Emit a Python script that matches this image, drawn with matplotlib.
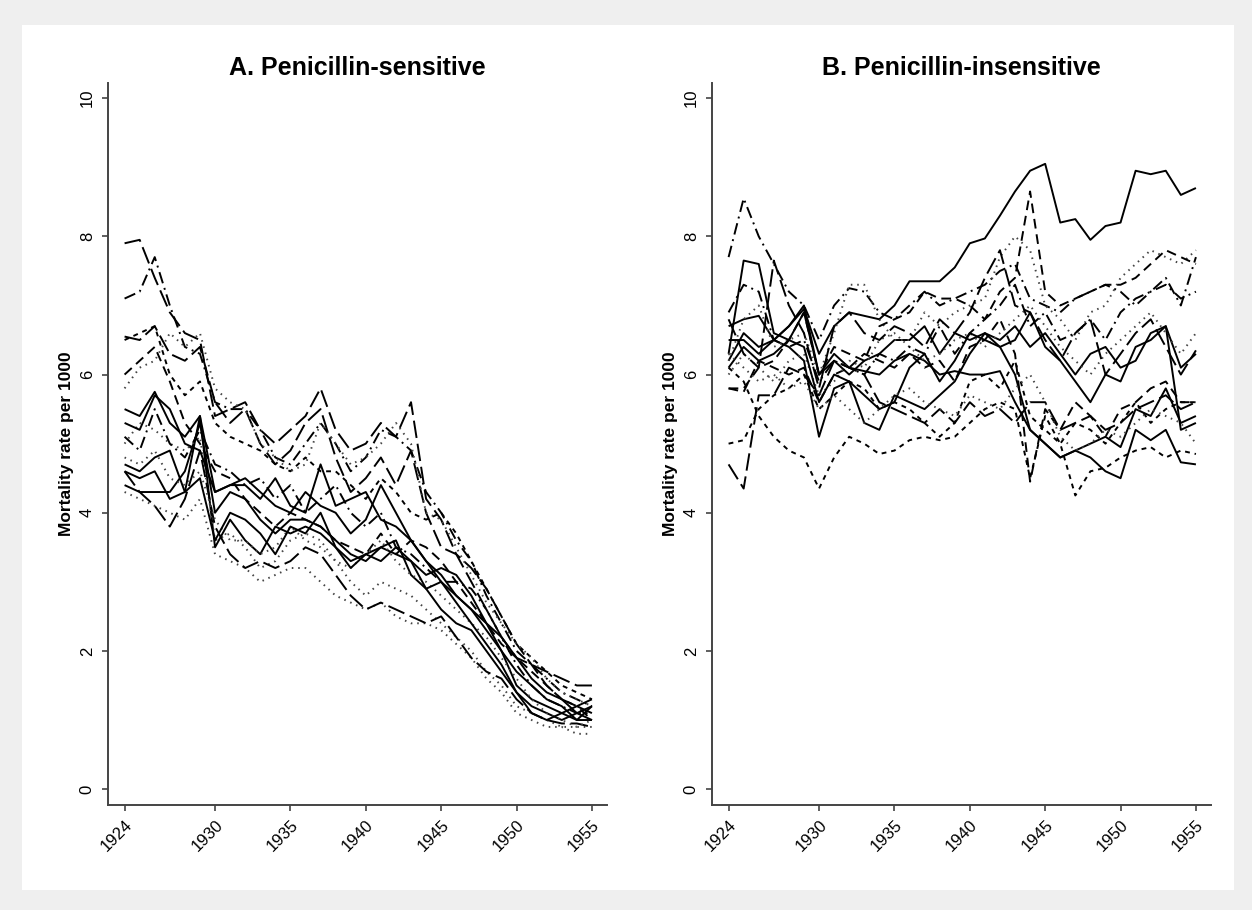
import matplotlib
matplotlib.use("Agg")
import matplotlib.pyplot as plt
from matplotlib.patches import Rectangle

plt.rcParams['font.family'] = ['Liberation Sans', 'DejaVu Sans']

years = list(range(1924, 1956))

# A. penicillin-sensitive diseases (one row per cause)
sens_1 = [7.9, 7.95, 7.4, 6.9, 6.6, 6.5, 5.4, 5.5, 5.6, 5.2, 5.0, 5.2, 5.4, 5.8, 5.2, 4.9, 5.0, 5.3, 5.1, 5.6, 4.2, 3.9, 3.4, 3.0, 2.6, 2.2, 1.9, 1.8, 1.7, 1.6, 1.5, 1.5]
sens_2 = [7.1, 7.2, 7.7, 7.0, 6.4, 6.3, 5.6, 5.5, 5.5, 5.2, 4.8, 4.7, 5.0, 5.3, 5.0, 4.6, 4.8, 5.2, 5.1, 4.9, 4.3, 4.0, 3.6, 3.3, 2.8, 2.4, 2.0, 1.8, 1.6, 1.4, 1.3, 1.2]
sens_3 = [5.5, 5.4, 5.75, 5.3, 5.1, 5.4, 4.3, 4.4, 4.4, 4.2, 4.5, 4.1, 4.0, 4.7, 4.1, 4.2, 4.3, 3.9, 3.8, 3.6, 3.3, 3.1, 2.8, 2.6, 2.3, 2.0, 1.7, 1.5, 1.3, 1.2, 1.0, 1.2]
sens_4 = [4.6, 4.5, 4.6, 4.2, 4.3, 5.4, 3.5, 3.9, 3.6, 3.4, 3.8, 3.7, 3.8, 3.7, 3.5, 3.3, 3.4, 3.5, 3.6, 3.1, 2.9, 2.6, 2.4, 2.3, 2.0, 1.7, 1.4, 1.2, 1.1, 1.0, 1.1, 1.2]
sens_5 = [4.4, 4.3, 4.3, 4.3, 4.6, 5.3, 4.0, 4.3, 4.2, 3.9, 3.7, 3.9, 3.9, 3.8, 3.6, 3.4, 3.3, 3.5, 3.4, 3.3, 3.1, 3.2, 3.1, 2.8, 2.4, 2.0, 1.5, 1.3, 1.2, 1.1, 1.0, 1.0]
sens_6 = [4.3, 4.2, 4.1, 4.0, 3.9, 4.2, 3.4, 3.3, 3.2, 3.0, 3.1, 3.2, 3.2, 3.0, 2.8, 2.7, 2.6, 2.7, 2.5, 2.4, 2.4, 2.3, 2.1, 1.9, 1.6, 1.4, 1.1, 1.0, 0.9, 0.9, 0.8, 0.8]
sens_7 = [5.0, 5.3, 5.2, 5.0, 4.9, 5.1, 3.6, 3.7, 3.5, 3.2, 3.3, 3.6, 3.7, 3.6, 3.3, 3.0, 2.8, 3.0, 2.9, 2.8, 2.6, 2.4, 2.2, 2.0, 1.7, 1.5, 1.2, 1.1, 1.0, 0.9, 0.9, 0.9]
sens_8 = [6.5, 6.6, 6.7, 6.0, 5.7, 5.9, 5.3, 5.1, 5.0, 4.9, 4.7, 4.6, 4.8, 4.6, 4.6, 4.4, 4.2, 4.5, 4.3, 4.0, 3.9, 4.0, 3.7, 3.3, 2.9, 2.5, 2.1, 1.9, 1.7, 1.5, 1.4, 1.3]
sens_9 = [6.55, 6.5, 6.7, 6.3, 6.2, 6.4, 5.6, 5.3, 5.5, 5.0, 4.7, 4.9, 5.3, 5.5, 4.8, 4.3, 4.5, 4.8, 4.4, 4.9, 4.0, 3.5, 3.4, 3.2, 2.9, 2.5, 2.1, 1.8, 1.5, 1.3, 1.2, 1.1]
sens_10 = [5.8, 6.1, 6.2, 6.6, 6.4, 6.6, 5.8, 5.6, 5.5, 5.0, 4.8, 4.6, 4.7, 5.3, 5.0, 4.7, 4.8, 5.0, 5.3, 5.0, 4.0, 3.9, 3.5, 3.1, 2.7, 2.4, 2.1, 1.9, 1.6, 1.4, 1.3, 1.2]
sens_11 = [5.1, 4.9, 5.5, 5.0, 4.8, 5.2, 4.7, 4.6, 4.4, 4.5, 4.2, 4.4, 4.0, 4.2, 4.4, 4.0, 3.8, 4.0, 3.5, 3.4, 3.2, 3.0, 3.0, 2.9, 2.6, 2.2, 1.8, 1.5, 1.3, 1.2, 1.1, 1.1]
sens_12 = [4.6, 4.3, 4.1, 3.8, 4.2, 4.9, 3.8, 3.4, 3.2, 3.3, 3.2, 3.3, 3.5, 3.4, 3.1, 2.8, 2.6, 2.7, 2.6, 2.5, 2.4, 2.5, 2.2, 1.9, 1.7, 1.6, 1.3, 1.1, 1.0, 0.95, 0.95, 0.9]
sens_13 = [5.3, 5.2, 5.7, 5.5, 5.0, 4.9, 4.3, 4.4, 4.5, 4.3, 4.1, 4.0, 4.3, 4.1, 4.0, 3.7, 3.9, 4.4, 4.0, 3.6, 3.3, 3.0, 2.8, 2.6, 2.4, 2.2, 1.9, 1.6, 1.4, 1.3, 1.1, 1.0]
sens_14 = [6.0, 6.2, 6.4, 5.9, 5.3, 5.0, 4.6, 4.5, 4.2, 4.0, 3.8, 4.0, 3.9, 3.8, 3.6, 3.5, 3.4, 3.7, 3.4, 3.6, 3.5, 3.3, 3.0, 2.7, 2.4, 2.1, 1.9, 1.7, 1.5, 1.3, 1.2, 1.0]
sens_15 = [4.8, 4.7, 4.9, 4.5, 4.4, 4.6, 3.9, 3.6, 3.6, 3.4, 3.5, 3.8, 3.6, 3.5, 3.3, 3.2, 3.4, 3.6, 3.3, 3.1, 3.0, 2.8, 2.6, 2.4, 2.2, 1.9, 1.6, 1.3, 1.1, 1.0, 0.9, 1.0]
sens_16 = [4.7, 4.6, 4.8, 4.9, 4.3, 4.5, 3.6, 4.0, 3.9, 3.7, 3.4, 3.8, 3.7, 4.0, 3.5, 3.2, 3.4, 3.3, 3.5, 3.3, 2.9, 3.0, 2.7, 2.4, 2.1, 1.8, 1.4, 1.1, 1.0, 1.1, 1.2, 1.3]

# B. penicillin-insensitive diseases
ins_1 = [6.7, 6.8, 6.85, 6.5, 6.7, 6.95, 6.3, 6.7, 6.9, 6.85, 6.8, 7.0, 7.35, 7.35, 7.35, 7.55, 7.9, 7.97, 8.3, 8.65, 8.95, 9.05, 8.2, 8.25, 7.95, 8.15, 8.2, 8.95, 8.9, 8.95, 8.6, 8.7]
ins_2 = [6.1, 5.9, 5.4, 5.1, 4.9, 4.8, 4.35, 4.8, 5.1, 5.0, 4.85, 4.9, 5.05, 5.1, 5.05, 5.1, 5.3, 5.5, 5.6, 5.5, 4.5, 5.4, 5.0, 4.25, 4.6, 4.65, 4.8, 4.9, 4.95, 4.8, 4.9, 4.85]
ins_3 = [7.7, 8.55, 8.0, 7.6, 7.2, 7.0, 6.5, 7.0, 7.25, 7.2, 6.9, 6.8, 7.0, 7.2, 7.0, 7.1, 7.2, 7.3, 7.5, 7.6, 7.1, 7.0, 6.9, 7.1, 7.2, 7.3, 7.2, 7.0, 7.2, 7.3, 7.1, 7.2]
ins_4 = [6.3, 7.65, 7.6, 6.6, 6.5, 6.9, 6.0, 6.2, 6.0, 6.2, 6.3, 6.5, 6.5, 6.7, 6.3, 6.6, 6.5, 6.6, 6.5, 6.7, 6.4, 6.6, 6.3, 6.0, 6.3, 6.4, 6.1, 6.2, 6.6, 6.7, 6.1, 6.3]
ins_5 = [6.2, 6.6, 6.4, 6.5, 6.4, 6.2, 5.1, 5.8, 5.9, 5.3, 5.2, 5.7, 5.6, 5.5, 5.7, 5.9, 6.3, 6.6, 6.4, 6.0, 5.2, 5.0, 4.8, 4.9, 4.8, 4.6, 4.5, 5.2, 5.05, 5.2, 4.73, 4.7]
ins_6 = [6.2, 6.8, 7.0, 6.4, 6.5, 6.6, 6.0, 6.6, 7.3, 7.3, 6.8, 6.5, 6.5, 6.9, 6.7, 6.9, 7.0, 7.1, 7.7, 8.0, 7.8, 7.0, 6.8, 6.5, 6.9, 7.0, 7.4, 7.6, 7.8, 7.7, 7.6, 7.8]
ins_7 = [5.8, 5.8, 6.1, 6.2, 6.5, 6.9, 6.0, 6.4, 6.3, 6.2, 6.7, 6.8, 6.9, 7.2, 7.1, 7.1, 7.0, 6.8, 7.2, 7.4, 8.65, 7.2, 7.0, 7.1, 7.2, 7.3, 7.3, 7.4, 7.6, 7.8, 7.7, 7.6]
ins_8 = [4.7, 4.35, 5.7, 5.7, 6.1, 6.0, 5.7, 6.2, 6.1, 6.0, 5.6, 5.5, 5.4, 5.3, 5.5, 5.3, 5.6, 5.4, 5.5, 5.3, 5.6, 5.6, 5.2, 5.3, 5.4, 5.2, 5.3, 5.5, 5.6, 5.7, 5.5, 5.6]
ins_9 = [5.8, 5.75, 6.2, 6.1, 6.0, 6.1, 5.6, 6.0, 6.1, 6.3, 6.2, 6.1, 6.3, 6.1, 6.2, 5.9, 6.4, 6.5, 6.8, 6.3, 4.45, 5.5, 5.2, 5.6, 5.4, 5.1, 5.5, 5.6, 5.8, 5.9, 5.6, 5.6]
ins_10 = [6.5, 6.5, 6.3, 6.5, 6.7, 7.0, 6.0, 6.3, 6.1, 6.05, 6.0, 6.2, 6.3, 6.2, 6.0, 6.05, 6.0, 6.0, 6.05, 5.6, 5.2, 5.0, 4.8, 4.9, 5.0, 5.1, 4.95, 5.5, 5.4, 5.8, 5.3, 5.4]
ins_11 = [6.0, 6.3, 6.1, 5.9, 6.2, 6.3, 5.7, 5.9, 6.2, 6.1, 6.5, 6.6, 6.4, 6.2, 6.3, 6.5, 6.6, 6.4, 6.6, 6.8, 7.0, 6.7, 6.4, 6.2, 6.0, 6.3, 6.5, 6.7, 6.9, 6.6, 6.3, 6.6]
ins_12 = [6.9, 7.3, 7.2, 6.5, 6.4, 6.5, 5.9, 6.2, 6.1, 6.0, 6.3, 6.2, 6.4, 6.3, 6.7, 6.3, 6.6, 6.8, 7.0, 7.3, 6.7, 6.9, 6.5, 6.6, 6.8, 6.5, 6.9, 7.1, 7.2, 7.4, 7.0, 7.7]
ins_13 = [6.1, 6.4, 6.2, 6.3, 6.5, 6.4, 5.6, 6.0, 5.9, 5.7, 5.5, 5.6, 6.1, 6.3, 5.9, 6.2, 6.6, 6.5, 6.4, 6.5, 6.9, 6.4, 6.2, 5.9, 5.6, 6.0, 5.9, 6.4, 6.5, 6.7, 5.2, 5.3]
ins_14 = [5.0, 5.05, 5.5, 5.7, 5.8, 6.0, 5.5, 5.7, 5.9, 5.8, 5.5, 5.6, 5.5, 5.3, 5.1, 5.3, 5.9, 6.0, 5.8, 6.2, 5.4, 5.2, 5.0, 5.3, 5.2, 5.0, 5.3, 5.6, 5.3, 5.5, 5.6, 5.6]
ins_15 = [6.3, 6.1, 5.9, 6.0, 5.8, 5.9, 5.5, 5.7, 5.5, 5.3, 5.5, 5.7, 5.8, 5.6, 5.5, 5.4, 5.7, 5.6, 5.5, 5.8, 6.0, 5.6, 5.1, 4.9, 5.0, 5.2, 5.1, 5.3, 5.5, 5.4, 5.3, 5.0]
ins_16 = [6.8, 6.3, 6.1, 7.65, 7.0, 6.6, 5.8, 6.7, 6.9, 6.6, 6.5, 6.7, 6.6, 6.4, 6.8, 6.6, 6.9, 7.4, 7.8, 7.0, 6.9, 6.5, 6.2, 6.6, 6.8, 6.0, 6.3, 6.6, 6.8, 6.4, 6.0, 6.35]

sensitive = [sens_1, sens_2, sens_3, sens_4, sens_5, sens_6, sens_7, sens_8,
             sens_9, sens_10, sens_11, sens_12, sens_13, sens_14, sens_15, sens_16]
insensitive = [ins_1, ins_2, ins_3, ins_4, ins_5, ins_6, ins_7, ins_8,
               ins_9, ins_10, ins_11, ins_12, ins_13, ins_14, ins_15, ins_16]

# stata-like line patterns
solid = (0, ())
longdash = (0, (9, 3))
dash = (0, (5, 3))
shortdash = (0, (2.5, 2.5))
dot = (0, (0.8, 2.5))
dashdot = (0, (6, 2.5, 1, 2.5))

sens_styles = [longdash, dashdot, solid, solid, solid, dot, dot, shortdash,
               longdash, dot, dashdot, longdash, solid, dash, dot, solid]
ins_styles = [solid, shortdash, dashdot, solid, solid, dot, dash, longdash,
              dash, solid, dot, dashdot, solid, shortdash, dot, longdash]

fig = plt.figure(figsize=(12.52, 9.10), dpi=100)
fig.patch.set_facecolor('#efefef')
# white plot region inside the grey border
fig.patches.append(Rectangle((22 / 1252, 1 - 890 / 910), (1234 - 22) / 1252, (890 - 25) / 910,
                             transform=fig.transFigure, facecolor='white', edgecolor='none', zorder=-10))

panels = [
    ("A. Penicillin-sensitive", sensitive, sens_styles, 108),
    ("B. Penicillin-insensitive", insensitive, ins_styles, 712),
]

for title, series, styles, left_px in panels:
    ax = fig.add_axes([left_px / 1252, 105 / 910, 499 / 1252, 722 / 910])
    ax.set_facecolor('none')
    for vals, ls in zip(series, styles):
        col = '#444444' if ls == dot else 'black'
        ax.plot(years, vals, color=col, linestyle=ls, linewidth=1.4)
    ax.set_xlim(1922.9, 1956.0)
    ax.set_ylim(-0.23, 10.22)
    ax.set_xticks([1924, 1930, 1935, 1940, 1945, 1950, 1955])
    ax.set_yticks([0, 2, 4, 6, 8, 10])
    ax.tick_params(axis='both', length=4.5, width=1.2, color='#444444', labelsize=12, pad=4)
    ax.tick_params(axis='y', pad=5)
    plt.setp(ax.get_xticklabels(), rotation=45, ha='right', rotation_mode='anchor')
    plt.setp(ax.get_yticklabels(), rotation=90, va='center')
    for side in ['top', 'right']:
        ax.spines[side].set_visible(False)
    for side in ['left', 'bottom']:
        ax.spines[side].set_color('#444444')
        ax.spines[side].set_linewidth(1.4)
    ax.set_ylabel('Mortality rate per 1000', fontsize=12.5, fontweight='bold', labelpad=4)
    ax.set_title(title, fontsize=18, fontweight='bold', pad=6)

fig.savefig('out.png', dpi=100, facecolor=fig.get_facecolor())
